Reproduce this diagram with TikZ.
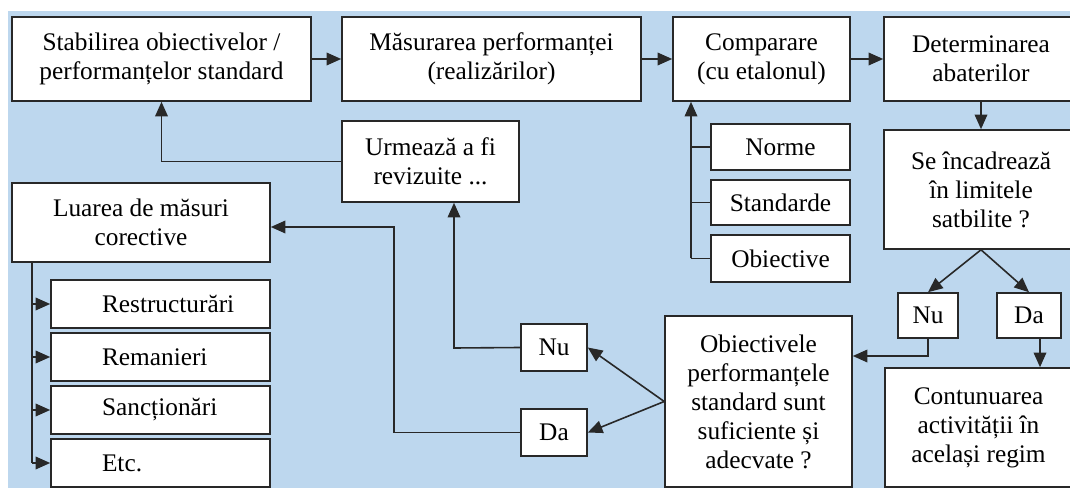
\documentclass[tikz,border=0pt]{standalone}
\usepackage{fontspec}
\setmainfont{Liberation Serif}
\usetikzlibrary{arrows.meta,calc}
\definecolor{bgblue}{RGB}{189,215,238}
\definecolor{edge}{RGB}{40,40,40}
\begin{document}
\begin{tikzpicture}[x=0.75pt,y=-0.75pt,
  box/.style={draw=edge, line width=1.2pt, fill=white, inner sep=0pt,
    align=center, font=\fontsize{19}{21.75}\selectfont},
  bx/.style 2 args={box, minimum width=#1*0.75pt, minimum height=#2*0.75pt},
  lbx/.style={box, align=left, text width=219*0.75pt, minimum height=#1*0.75pt},
  link/.style={draw=edge, line width=1.2pt},
  arr/.style={link, -{Triangle[length=11pt,width=9.5pt]}}]
\useasboundingbox (0,0) rectangle (1070,488);
\clip (0,0) rectangle (1070,488);
\fill[white] (0,0) rectangle (1070,488);
\fill[bgblue] (8,11) rectangle (1070,488);

% top row
\node[bx={299}{84}] (stab) at (161.5,59) {Stabilirea obiectivelor /\\performanțelor standard};
\node[bx={299}{84}] (meas) at (491.5,59) {Măsurarea performanței\\(realizărilor)};
\node[bx={177}{84}] (comp) at (761.5,59) {Comparare\\(cu etalonul)};
\node[bx={194}{84}] (det)  at (981,59)   {Determinarea\\abaterilor};

% references for the comparison
\node[bx={139}{46}] (norme) at (780.5,147)   {Norme};
\node[bx={139}{45}] (stdd)  at (780.5,202.5) {Standarde};
\node[bx={139}{47}] (obv)   at (780.5,258.5) {Obiective};

% decision on the deviations
\node[bx={194}{119}] (se) at (981,189.5) {Se încadrează\\în limitele\\satbilite ?};
\node[bx={60}{45}] (nuR) at (928,315.5)  {Nu};
\node[bx={64}{45}] (daR) at (1029,315.5) {Da};
\node[bx={187}{119}] (cont) at (978.5,427.5) {Contunuarea\\activității în\\același regim};

% review of the objectives
\node[bx={187}{171}] (obj) at (758.5,401.5) {Obiectivele\\performanțele\\standard sunt\\suficiente și\\adecvate ?};
\node[bx={66}{47}] (nuL) at (554,347.5) {Nu};
\node[bx={66}{47}] (daL) at (554,432.5) {Da};
\node[bx={177}{81}] (urm) at (430.5,161.5) {Urmează a fi\\revizuite ...};

% corrective measures
\node[bx={258}{79}] (luarea) at (141,222.5) {Luarea de măsuri\\corective};
\node[lbx=48] (restr) at (160.5,304) {\hspace*{38.25pt}Restructurări};
\node[lbx=48] (reman) at (160.5,357) {\hspace*{38.25pt}Remanieri};
\node[lbx=48] (sanct) at (160.5,410) {\hspace*{38.25pt}Sancționări};
\node[lbx=48] (etcb)  at (160.5,463) {\hspace*{38.25pt}Etc.};

% main sequence
\draw[arr] (stab) -- (meas);
\draw[arr] (meas) -- (comp);
\draw[arr] (comp) -- (det);
\draw[arr] (det) -- (se);

% standards feeding the comparison
\coordinate (cx) at (691,0);
\draw[arr] (cx |- obv.west) -- (cx |- comp.south);
\draw[link] (cx |- norme.west) -- (norme.west);
\draw[link] (cx |- stdd.west) -- (stdd.west);
\draw[link] (cx |- obv.west) -- (obv.west);

% branches of the decision
\draw[arr] (se.south) -- (nuR.north);
\draw[arr] (se.south) -- (daR.north);
\coordinate (ny) at (0,356);
\draw[arr] (nuR.south) |- (ny -| obj.east);
\coordinate (dx) at (1040,338);
\draw[arr] (dx) -- (dx |- cont.north);

% review outcomes
\draw[arr] (obj.west) -- (nuL.east);
\draw[arr] (obj.west) -- (daL.east);
\coordinate (nk) at (454,348);
\draw[arr] (nuL.west) -- (nk) -- (nk |- urm.south);
\draw[arr] (urm.west) -| (stab.south);
\coordinate (dk) at (394,227);
\draw[arr] (daL.west) -| (dk) -- (dk -| luarea.east);

% list of corrective measures
\coordinate (lx) at (32,0);
\draw[link] (lx |- luarea.south) -- (lx |- etcb.west);
\draw[arr] (lx |- restr.west) -- (restr.west);
\draw[arr] (lx |- reman.west) -- (reman.west);
\draw[arr] (lx |- sanct.west) -- (sanct.west);
\draw[arr] (lx |- etcb.west) -- (etcb.west);
\end{tikzpicture}
\end{document}
